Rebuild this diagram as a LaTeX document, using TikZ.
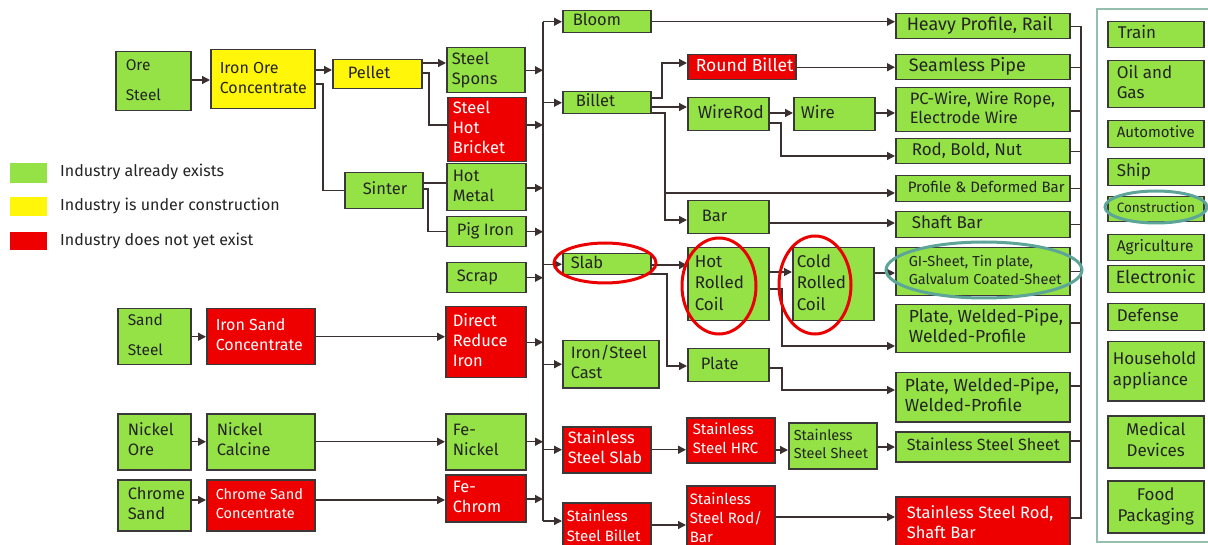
\documentclass[tikz,border=0pt]{standalone}
\usepackage{fontspec}
\setmainfont{Fira Sans}
\usetikzlibrary{arrows.meta}
\definecolor{gr}{RGB}{148,226,70}
\definecolor{yl}{RGB}{255,246,10}
\definecolor{rd}{RGB}{238,0,0}
\definecolor{bd}{RGB}{58,56,56}
\definecolor{tx}{RGB}{36,36,36}
\definecolor{lc}{RGB}{58,48,48}
\definecolor{tealc}{RGB}{92,165,152}
\definecolor{framec}{RGB}{150,190,172}
\definecolor{ellred}{RGB}{235,0,0}
\newcommand\fs[2]{\fontsize{#1}{#2}\selectfont}
\newcommand\Lt[1]{\begin{tabular}{@{}l@{}}#1\end{tabular}}
\newcommand\Ct[1]{\begin{tabular}{@{}c@{}}#1\end{tabular}}
% #1 style, #2 name, #3 x1, #4 y1, #5 x2, #6 y2, #7 indent, #8 text
\newcommand\bx[8]{%
  \pgfmathsetmacro\bxW{#5-#3}\pgfmathsetmacro\bxH{#6-#4}\pgfmathsetmacro\bxT{#5-#3-2*#7}%
  \node[#1,anchor=north west,minimum width=\bxW pt,minimum height=\bxH pt,inner xsep=#7pt,inner ysep=0pt] (#2) at (#3,#4) {\makebox[\bxT pt][l]{\Lt{#8}}};}
\newcommand\bxc[7]{%
  \pgfmathsetmacro\bxW{#5-#3}\pgfmathsetmacro\bxH{#6-#4}%
  \node[#1,anchor=north west,minimum width=\bxW pt,minimum height=\bxH pt,inner xsep=0pt,inner ysep=0pt] (#2) at (#3,#4) {\makebox[\bxW pt][c]{\Ct{#7}}};}
\tikzset{
  g/.style={draw=bd,line width=1.5pt,fill=gr,text=tx,font=\fs{16.5}{20}},
  yb/.style={g,fill=yl},
  r/.style={g,fill=rd,text=white},
  ln/.style={draw=lc,line width=1.4pt},
  arr/.style={ln,-{Triangle[length=8pt,width=8pt]}},
  redel/.style={draw=ellred,line width=3pt},
  tealel/.style={draw=tealc,line width=3pt},
  legtext/.style={anchor=west,text=tx,font=\fs{16}{19},inner sep=0pt}
}
\begin{document}
\begin{tikzpicture}[x=1pt,y=-1pt]
\useasboundingbox (0,0) rectangle (1208,545);
\clip (0,0) rectangle (1208,545);
\fill[white] (0,0) rectangle (1208,545);

% legend
\node[fill=gr,minimum width=37pt,minimum height=20pt,inner sep=0pt,anchor=north west] (lg1) at (10,163) {};
\node[fill=yl,minimum width=37pt,minimum height=19pt,inner sep=0pt,anchor=north west] (lg2) at (10,197) {};
\node[fill=rd,minimum width=37pt,minimum height=18pt,inner sep=0pt,anchor=north west] (lg3) at (10,232) {};
\node[legtext] (lt1) at (60,172) {Industry already exists};
\node[legtext] (lt2) at (60,206) {Industry is under construction};
\node[legtext] (lt3) at (60,241) {Industry does not yet exist};

% left column
\bx{g,font=\fs{15.5}{19}}{ore}{115}{51}{190}{110}{10}{Ore\\[11pt]Steel}
\bx{yb,font=\fs{16}{20}}{ioc}{210}{49}{314}{108}{9}{Iron Ore\\Concentrate}
\bx{yb}{pellet}{332}{59}{421}{88}{15}{Pellet}
\bx{g}{spons}{446}{47}{524}{92}{5}{Steel\\Spons}
\bx{r}{bricket}{447}{97}{525}{161}{5}{Steel\\Hot\\Bricket}
\bx{g}{hotmetal}{446}{163}{525}{210}{6}{Hot\\Metal}
\bx{g}{pigiron}{446}{216}{525}{246}{10}{Pig Iron}
\bx{g}{scrap}{446}{262}{525}{292}{10}{Scrap}
\bx{g}{sinter}{344}{172}{422}{208}{18}{Sinter}
\bx{g,font=\fs{15.5}{19}}{sand}{117}{308}{190}{364}{10}{Sand\\[11pt]Steel}
\bx{r,font=\fs{16}{20}}{isc}{206}{308}{314}{364}{9}{Iron Sand\\Concentrate}
\bx{r}{dri}{445}{306}{525}{377}{7}{Direct\\Reduce\\Iron}
\bx{g}{nore}{117}{413}{190}{469}{10}{Nickel\\Ore}
\bx{g}{ncal}{206}{413}{314}{469}{10}{Nickel\\Calcine}
\bx{g}{feni}{445}{413}{525}{469}{7}{Fe-\\Nickel}
\bx{g}{csand}{117}{479}{190}{530}{10}{Chrome\\Sand}
\bx{r,font=\fs{14.5}{19}}{csc}{206}{479}{314}{530}{9}{Chrome Sand\\Concentrate}
\bx{r}{fechrom}{445}{474}{525}{521}{7}{Fe-\\Chrom}

% second column
\bx{g}{bloom}{562}{10}{650}{32}{10}{Bloom}
\bx{g}{billet}{562}{91}{650}{113}{13}{Billet}
\bx{g}{slab}{562}{253}{650}{274}{8}{Slab}
\bx{g}{cast}{562}{340}{658}{387}{8}{Iron/Steel\\Cast}
\bx{r}{ssslab}{562}{426}{650}{472}{5}{Stainless\\Steel Slab}
\bx{r,font=\fs{15}{19.5}}{ssbillet}{562}{502}{650}{552}{4}{Stainless\\Steel Billet}

% third column
\bx{r,font=\fs{17.5}{20}}{rbillet}{687}{54}{795}{79}{8}{Round Billet}
\bx{g,font=\fs{17.5}{20}}{wirerod}{687}{97}{768}{130}{10}{WireRod}
\bx{g,font=\fs{17}{20}}{wire}{793}{97}{874}{130}{7}{Wire}
\bx{g}{bar}{687}{200}{768}{233}{14}{Bar}
\bx{g,font=\fs{17}{21.5}}{hrc}{687}{247}{768}{320}{7}{Hot\\Rolled\\Coil}
\bx{g,font=\fs{17}{21.5}}{crc}{792}{247}{873}{320}{4}{Cold\\Rolled\\Coil}
\bx{g}{plate}{687}{348}{768}{381}{13}{Plate}
\bx{r,font=\fs{15}{19}}{sshrc}{686}{417}{774}{462}{6}{Stainless\\Steel HRC}
\bx{g,font=\fs{14.5}{18.5}}{sssheet}{788}{422}{876}{468}{5}{Stainless\\Steel Sheet}
\bx{r,font=\fs{15}{19}}{ssrb}{686}{485}{774}{552}{3}{Stainless\\Steel Rod/\\Bar}

% product column
\bx{g,font=\fs{18}{20}}{hp}{895}{13}{1069}{38}{11}{Heavy Profile, Rail}
\bx{g,font=\fs{18}{20}}{seam}{895}{54}{1069}{79}{13}{Seamless Pipe}
\bx{g,font=\fs{16.5}{19}}{pcw}{895}{87}{1069}{131}{14}{PC-Wire, Wire Rope,\\Electrode Wire}
\bx{g,font=\fs{17}{20}}{rbn}{895}{138}{1069}{163}{16}{Rod, Bold, Nut}
\bx{g,font=\fs{15}{19}}{pdb}{895}{175}{1069}{201}{12}{Profile \& Deformed Bar}
\bx{g,font=\fs{17}{20}}{shaft}{895}{211}{1069}{237}{16}{Shaft Bar}
\bx{g,font=\fs{14.5}{18}}{gi}{895}{247}{1069}{295}{13}{GI-Sheet, Tin plate,\\Galvalum Coated-Sheet}
\bx{g,font=\fs{17.5}{20}}{pw1}{895}{304}{1069}{352}{13}{Plate, Welded-Pipe,\\Welded-Profile}
\bx{g,font=\fs{17.5}{20}}{pw2}{895}{372}{1069}{421}{9}{Plate, Welded-Pipe,\\Welded-Profile}
\bx{g,font=\fs{16.2}{20}}{ssr}{895}{431}{1069}{461}{11}{Stainless Steel Sheet}
\bx{r}{ssrod}{895}{496}{1069}{552}{11}{Stainless Steel Rod,\\Shaft Bar}

% industries
\draw[draw=framec,line width=2.5pt] (1097,9) rectangle (1216,542);
\bx{g,font=\fs{17}{20}}{train}{1107}{21}{1203}{47}{10}{Train}
\bx{g,font=\fs{17}{20}}{oil}{1107}{60}{1203}{107}{9}{Oil and\\Gas}
\bx{g,font=\fs{15}{18}}{auto}{1107}{120}{1203}{147}{9}{Automotive}
\bx{g,font=\fs{17}{20}}{ship}{1107}{158}{1203}{185}{9}{Ship}
\bx{g,font=\fs{13.5}{17}}{constr}{1107}{196}{1203}{221}{9}{Construction}
\bx{g,font=\fs{15.5}{19}}{agri}{1107}{234}{1203}{260}{9}{Agriculture}
\bx{g,font=\fs{17.8}{20}}{elec}{1107}{265}{1203}{292}{8}{Electronic}
\bx{g,font=\fs{17}{20}}{def}{1107}{303}{1203}{330}{9}{Defense}
\bx{g,font=\fs{17}{21}}{house}{1107}{341}{1203}{400}{5}{Household\\appliance}
\bxc{g,font=\fs{17}{21}}{med}{1107}{415}{1203}{467}{Medical\\Devices}
\bxc{g,font=\fs{17}{21}}{food}{1107}{480}{1203}{532}{Food\\Packaging}

% ---- connectors, left part
\draw[arr] (ore.east |- 0,80) -- (ioc.west |- 0,80);
\draw[arr] (ioc.east |- 0,70) -- (pellet.west |- 0,70);
\draw[ln] (ioc.east |- 0,84) -- (323,84) |- (sinter.west);
\draw[arr] (pellet.east |- 0,63) -- (spons.west |- 0,63);
\draw[ln] (pellet.east |- 0,73) -- (429,73) |- (bricket.west |- 0,125);
\draw[ln] (sinter.east |- 0,183) -- (hotmetal.west |- 0,183);
\draw[ln] (sinter.east |- 0,189) -- (428,189) |- (pigiron.west);
\draw[arr] (sand.east) -- (sand.east -| isc.west);
\draw[arr] (isc.east) -- (isc.east -| dri.west);
\draw[arr] (nore.east) -- (nore.east -| ncal.west);
\draw[arr] (ncal.east) -- (ncal.east -| feni.west);
\draw[arr] (csand.east |- 0,500) -- (csc.west |- 0,500);
\draw[arr] (csc.east |- 0,500) -- (fechrom.west |- 0,500);

% ---- main bus
\coordinate (bx) at (543,0);
\draw[ln] (bx |- bloom.west) -- (bx |- 0,521);
\draw[arr] (spons.east) -- (spons.east -| bx);
\draw[arr] (bricket.east |- 0,125) -- (bx |- 0,125);
\draw[arr] (hotmetal.east |- 0,188) -- (bx |- 0,188);
\draw[arr] (pigiron.east) -- (pigiron.east -| bx);
\draw[arr] (scrap.east) -- (scrap.east -| bx);
\draw[arr] (dri.east) -- (dri.east -| bx);
\draw[arr] (feni.east) -- (feni.east -| bx);
\draw[arr] (fechrom.east |- 0,499) -- (bx |- 0,499);
\draw[arr] (bx |- bloom.west) -- (bloom.west);
\draw[arr] (bx |- billet.west) -- (billet.west);
\draw[arr] (bx |- slab.west) -- (slab.west);
\draw[arr] (bx |- cast.west) -- (cast.west);
\draw[arr] (bx |- ssslab.west) -- (ssslab.west);
\draw[arr] (bx |- 0,521) -- (ssbillet.west |- 0,521);

% ---- middle connectors
\draw[arr] (bloom.east) -- (bloom.east -| hp.west);
\draw[arr] (billet.east |- 0,98) -- (662,98) |- (rbillet.west |- 0,63);
\draw[arr] (rbillet.east) -- (rbillet.east -| seam.west);
\draw[arr] (billet.east |- 0,107) -- (wirerod.west |- 0,107);
\coordinate (j1) at (665,193);
\draw[arr] (billet.east |- 0,113) -| (665,220) -- (bar.west |- 0,220);
\draw[arr] (j1) -- (pdb.west |- j1);
\draw[arr] (wirerod.east |- 0,113) -- (wire.west |- 0,113);
\draw[arr] (wire.east |- 0,113) -- (pcw.west |- 0,113);
\draw[arr] (wirerod.east |- 0,123) -- (781,123) |- (rbn.west |- 0,156);
\draw[arr] (bar.east |- 0,223) -- (shaft.west |- 0,223);
\draw[arr] (slab.east |- 0,265) -- (hrc.west |- 0,265);
\draw[arr] (slab.east |- 0,274) -- (667,274) |- (plate.west |- 0,366);
\draw[arr] (hrc.east |- 0,272) -- (crc.west |- 0,272);
\draw[arr] (hrc.east |- 0,289) -- (782,289) |- (pw1.west |- 0,346);
\draw[arr] (crc.east |- 0,273) -- (gi.west |- 0,273);
\draw[arr] (plate.east |- 0,368) -- (782,368) |- (pw2.west |- 0,390);
\draw[arr] (ssslab.east) -- (ssslab.east -| sshrc.west);
\draw[arr] (sshrc.east |- 0,450) -- (sssheet.west |- 0,450);
\draw[arr] (sssheet.east |- 0,447) -- (ssr.west |- 0,447);
\draw[arr] (ssbillet.east |- 0,525) -- (ssrb.west |- 0,525);
\draw[arr] (ssrb.east |- 0,517) -- (ssrod.west |- 0,517);

% ---- right bus
\coordinate (rx) at (1081,0);
\draw[ln] (hp.east) -| (rx |- 0,518) -- (ssrod.east |- 0,518);
\draw[ln] (seam.east) -- (seam.east -| rx);
\draw[ln] (pcw.east |- 0,111) -- (rx |- 0,111);
\draw[ln] (rbn.east) -- (rbn.east -| rx);
\draw[ln] (pdb.east) -- (pdb.east -| rx);
\draw[ln] (shaft.east) -- (shaft.east -| rx);
\draw[ln] (gi.east) -- (gi.east -| rx);
\draw[ln] (pw1.east |- 0,323) -- (rx |- 0,323);
\draw[ln] (pw2.east |- 0,386) -- (rx |- 0,386);
\draw[ln] (ssr.east |- 0,441) -- (rx |- 0,441);

% ---- highlight ellipses
\draw[redel] (605,263) ellipse [x radius=51pt, y radius=20pt];
\draw[redel] (719,286) ellipse [x radius=37pt, y radius=48pt];
\draw[redel] (815,285) ellipse [x radius=36pt, y radius=49pt];
\draw[tealel] (984,270) ellipse [x radius=98pt, y radius=28pt];
\draw[tealel] (1156,207) ellipse [x radius=51pt, y radius=16pt];
\end{tikzpicture}
\end{document}
